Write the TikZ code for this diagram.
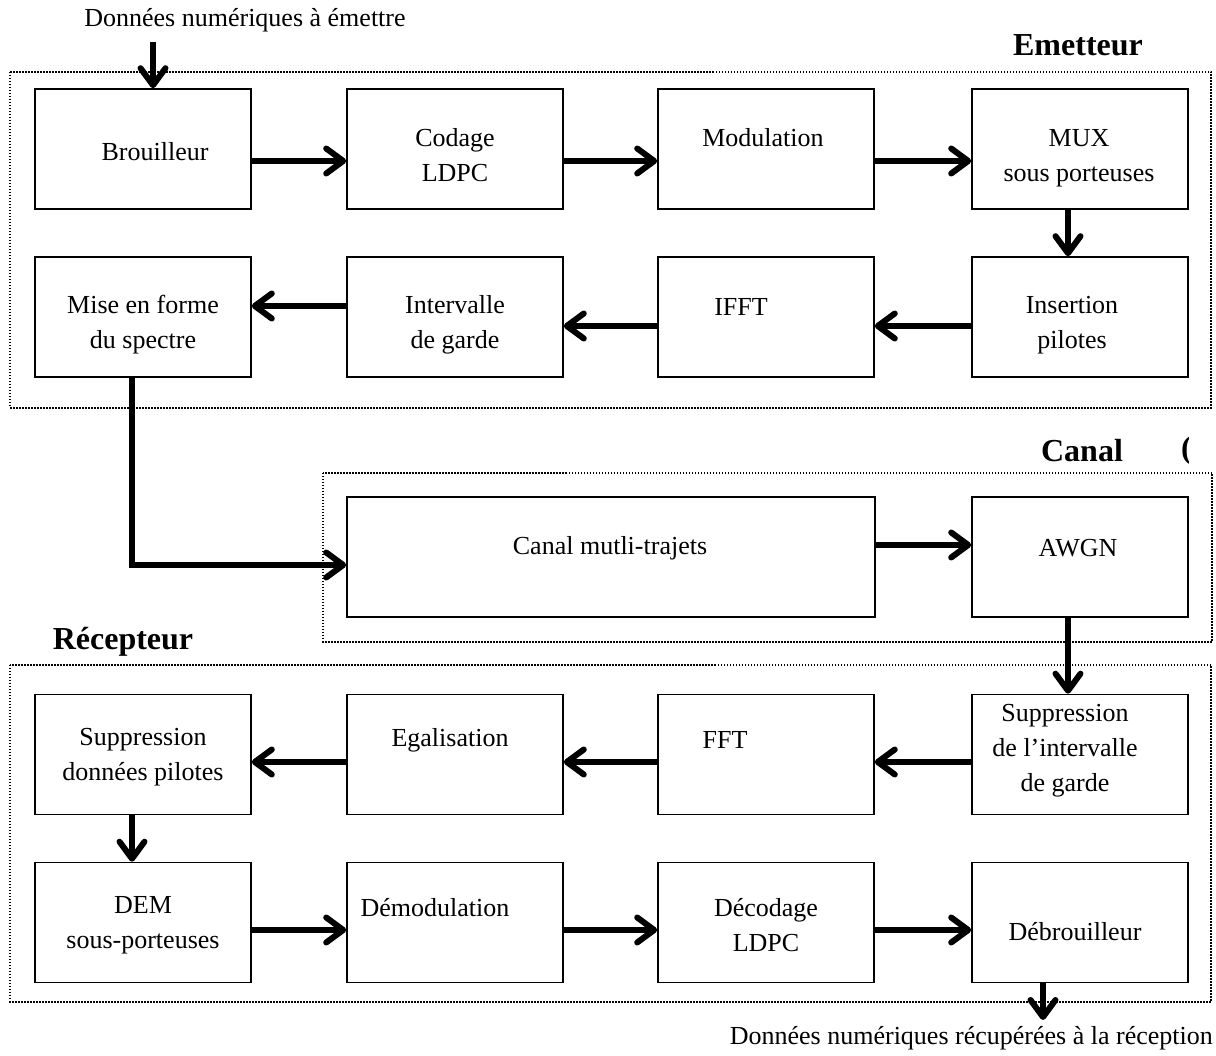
\documentclass[tikz,border=0pt]{standalone}
\usepackage{fontspec}
\setmainfont{Liberation Serif}
\usetikzlibrary{arrows.meta}
\tikzset{
  blk/.style={draw, line width=1.6pt, minimum width=216pt, minimum height=120pt, inner sep=0pt},
  txt/.style={align=center, font=\fontsize{26}{35}\selectfont, inner sep=0pt},
  ttl/.style={font=\fontsize{32}{38}\selectfont\bfseries, inner sep=0pt},
  zone/.style={draw, line width=1.5pt, dash pattern=on 1.5pt off 1.5pt},
  fl/.style={line width=6pt, -{Straight Barb[length=17pt,width=25pt,round]}},
}

\begin{document}
\begin{tikzpicture}[x=1pt,y=1pt]
    \useasboundingbox (0,0) rectangle (1216,1056);

    \draw[zone] (10,984) rectangle (1211,648);
    \draw[zone] (323,583) rectangle (1212,414);
    \draw[zone] (10,391) rectangle (1211,54);

    \node[ttl] (emet) at (1078,1011) {Emetteur};
    \node[ttl] (can) at (1082,605) {Canal};
    \begin{scope}
        \clip (1170,580) rectangle (1188,630);
        \node[ttl, anchor=west] (par) at (1181,605) {(};
    \end{scope}
    \node[ttl] (recep) at (123,414) {Récepteur};

    \node[blk] (brouil) at (143,907) {};
    \node[blk] (codage) at (455,907) {};
    \node[blk] (modul) at (766,907) {};
    \node[blk] (mux) at (1080,907) {};
    \node[blk] (mise) at (143,739) {};
    \node[blk] (interv) at (455,739) {};
    \node[blk] (ifft) at (766,739) {};
    \node[blk] (insert) at (1080,739) {};
    \node[blk, minimum width=528pt] (canal) at (611,499) {};
    \node[blk] (awgn) at (1080,499) {};
    \node[blk] (supd) at (143,301.5) {};
    \node[blk] (egal) at (455,301.5) {};
    \node[blk] (fft) at (766,301.5) {};
    \node[blk] (supg) at (1080,301.5) {};
    \node[blk] (dem) at (143,133.5) {};
    \node[blk] (demod) at (455,133.5) {};
    \node[blk] (decod) at (766,133.5) {};
    \node[blk] (debrouil) at (1080,133.5) {};

    \node[txt] (brouil-t) at (155,904) {Brouilleur};
    \node[txt] (codage-t) at (455,901) {Codage\\LDPC};
    \node[txt] (modul-t) at (763,918) {Modulation};
    \node[txt] (mux-t) at (1079,898) {MUX\\sous porteuses};
    \node[txt] (mise-t) at (143,731) {Mise en forme\\du spectre};
    \node[txt] (interv-t) at (455,731) {Intervalle\\de garde};
    \node[txt] (ifft-t) at (741,749) {IFFT};
    \node[txt] (insert-t) at (1072,731) {Insertion\\pilotes};
    \node[txt] (canal-t) at (610,508) {Canal mutli-trajets};
    \node[txt] (awgn-t) at (1078,508) {AWGN};
    \node[txt] (supd-t) at (143,299) {Suppression\\données pilotes};
    \node[txt] (egal-t) at (450,316) {Egalisation};
    \node[txt] (fft-t) at (725,316) {FFT};
    \node[txt] (supg-t) at (1065,305) {Suppression\\de l’intervalle\\de garde};
    \node[txt] (dem-t) at (143,131) {DEM\\sous-porteuses};
    \node[txt] (demod-t) at (435,148) {Démodulation};
    \node[txt] (decod-t) at (766,131) {Décodage\\LDPC};
    \node[txt] (debrouil-t) at (1075,124) {Débrouilleur};

    \node[txt] (in-t) at (245,1036) {Données numériques à émettre};
    \coordinate (in) at (153,1014);
    \node[txt, anchor=east] (out-t) at (1213,18) {Données numériques récupérées à la réception};
    \coordinate (out) at (1043,36);

    \draw[fl] (in) -- ([xshift=10pt]brouil.north);
    \draw[fl] ([yshift=-12pt]brouil.east) -- ([yshift=-12pt]codage.west);
    \draw[fl] ([yshift=-12pt]codage.east) -- ([yshift=-12pt]modul.west);
    \draw[fl] ([yshift=-12pt]modul.east) -- ([yshift=-12pt]mux.west);
    \draw[fl] ([xshift=-12pt]mux.south) -- ([xshift=-12pt]insert.north);
    \draw[fl] ([yshift=-9pt]insert.west) -- ([yshift=-9pt]ifft.east);
    \draw[fl] ([yshift=-9pt]ifft.west) -- ([yshift=-9pt]interv.east);
    \draw[fl] ([yshift=11pt]interv.west) -- ([yshift=11pt]mise.east);
    \draw[fl] ([xshift=-11pt]mise.south) |- ([yshift=-8pt]canal.west);
    \draw[fl] ([yshift=12pt]canal.east) -- ([yshift=12pt]awgn.west);
    \draw[fl] ([xshift=-12pt]awgn.south) -- ([xshift=-12pt]supg.north);
    \draw[fl] ([yshift=-7.5pt]supg.west) -- ([yshift=-7.5pt]fft.east);
    \draw[fl] ([yshift=-7.5pt]fft.west) -- ([yshift=-7.5pt]egal.east);
    \draw[fl] ([yshift=-7.5pt]egal.west) -- ([yshift=-7.5pt]supd.east);
    \draw[fl] ([xshift=-11pt]supd.south) -- ([xshift=-11pt]dem.north);
    \draw[fl] ([yshift=-7.5pt]dem.east) -- ([yshift=-7.5pt]demod.west);
    \draw[fl] ([yshift=-7.5pt]demod.east) -- ([yshift=-7.5pt]decod.west);
    \draw[fl] ([yshift=-7.5pt]decod.east) -- ([yshift=-7.5pt]debrouil.west);
    \draw[fl] ([xshift=-37pt]debrouil.south) -- (out);
\end{tikzpicture}
\end{document}
